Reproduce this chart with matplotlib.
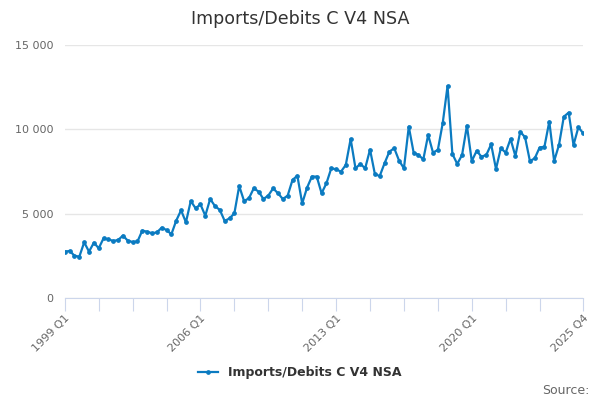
import matplotlib.pyplot as plt
import matplotlib.ticker as mticker
import numpy as np

# quarterly values, 1999 Q1 .. 2025 Q4
values = [
    2750, 2790, 2510, 2450, 3300, 2750, 3280, 2950,
    3540, 3480, 3380, 3440, 3700, 3400, 3320, 3350,
    4000, 3930, 3840, 3890, 4170, 4030, 3780, 4590,
    5200, 4490, 5750, 5320, 5550, 4880, 5870, 5450,
    5220, 4570, 4720, 5020, 6640, 5750, 5910, 6500,
    6310, 5870, 6070, 6500, 6210, 5870, 6070, 7000,
    7250, 5610, 6540, 7200, 7200, 6210, 6800, 7690,
    7630, 7490, 7890, 9430, 7690, 7950, 7690, 8800,
    7350, 7230, 7990, 8680, 8880, 8140, 7690, 10160,
    8620, 8480, 8220, 9670, 8620, 8780, 10360, 12570,
    8540, 7950, 8480, 10220, 8120, 8720, 8380, 8480,
    9110, 7650, 8880, 8620, 9430, 8420, 9860, 9530,
    8120, 8280, 8920, 8970, 10460, 8120, 9070, 10750,
    10990, 9070, 10120, 9770,
]
quarters = [f"{y} Q{q}" for y in range(1999, 2026) for q in range(1, 5)]
label_quarters = ["1999 Q1", "2006 Q1", "2013 Q1", "2020 Q1", "2025 Q4"]
series_name = "Imports/Debits C V4 NSA"

x = np.arange(len(values))
blue = "#0b7bc1"

fig = plt.figure(figsize=(6, 4), dpi=100)
ax = fig.add_axes([0.108, 0.255, 0.864, 0.6325])

ax.plot(x, values, color=blue, lw=1.6, marker="o", ms=2.4, label=series_name)

ax.set_xlim(0, len(values) - 1)
ax.set_ylim(0, 15000)
ax.set_yticks([0, 5000, 10000, 15000])
ax.yaxis.set_major_formatter(mticker.FuncFormatter(lambda v, p: f"{int(v):,}".replace(",", " ")))
ax.grid(axis="y", color="#e6e6e6", lw=1)
ax.set_axisbelow(True)
ax.tick_params(axis="y", length=0, labelsize=8, labelcolor="#666666", pad=8)

# minor ticks every 7 quarters plus the last one, labels every 28
tick_pos = list(range(0, 100, 7)) + [len(values) - 1]
ax.set_xticks(tick_pos)
ax.set_xticklabels([quarters[i] if quarters[i] in label_quarters else "" for i in tick_pos],
                   rotation=45, ha="right", rotation_mode="anchor")
ax.tick_params(axis="x", length=9, color="#ccd6eb", labelsize=8, labelcolor="#666666", pad=2)

for s in ["top", "right", "left"]:
    ax.spines[s].set_visible(False)
ax.spines["bottom"].set_color("#ccd6eb")

fig.suptitle("Imports/Debits C V4 NSA", y=0.975, fontsize=12.6, color="#333333")

leg = fig.legend(loc="center", bbox_to_anchor=(0.5, 0.068), frameon=False,
                 prop={"weight": "bold", "size": 9}, handlelength=1.6)
for t in leg.get_texts():
    t.set_color("#333333")

fig.text(0.982, 0.025, "Source:", ha="right", va="center", fontsize=9, color="#666666")

fig.savefig("out.png", dpi=100)
